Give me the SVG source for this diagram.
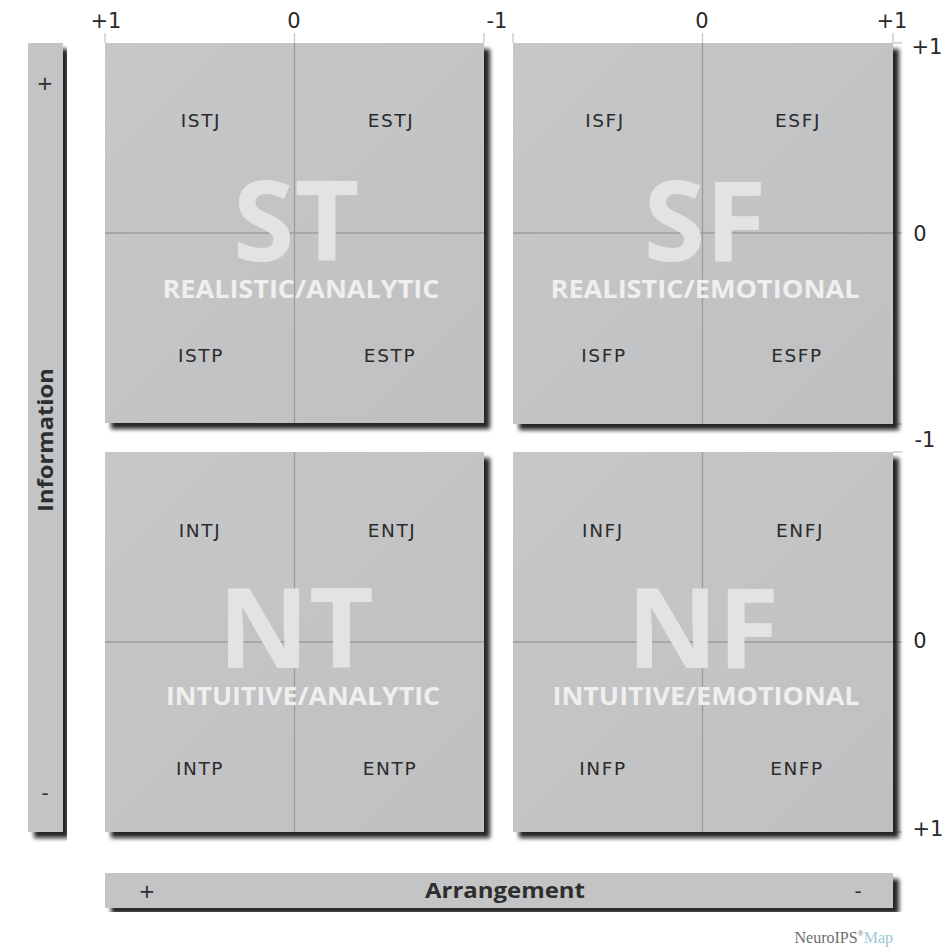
<svg xmlns="http://www.w3.org/2000/svg" width="947" height="952" viewBox="0 0 947 952">
<defs>
<filter id="sh" x="-5%" y="-5%" width="115%" height="115%">
<feDropShadow dx="6" dy="6" stdDeviation="2.2" flood-color="#111111" flood-opacity="0.9"/>
</filter>
<linearGradient id="pg" x1="0" y1="0" x2="1" y2="1">
<stop offset="0" stop-color="#c6c7c9"/>
<stop offset="1" stop-color="#bfc0c2"/>
</linearGradient>
<style>
.panel{fill:url(#pg);filter:url(#sh)}
.bar{fill:#c3c4c6;filter:url(#sh)}
.div{stroke:#9c9d9f;stroke-width:1.3;fill:none}
.tick{stroke:#c9cacc;stroke-width:1.3;fill:none}
.ax{font-family:"DejaVu Sans",Verdana,sans-serif;font-size:21px;fill:#2a2a2a;text-anchor:middle}
.ty{font-family:"DejaVu Sans",Verdana,sans-serif;font-size:18.5px;fill:#2b2b2b;text-anchor:middle;letter-spacing:1.6px}
.big{font-family:"Open Sans",sans-serif;font-weight:700;font-size:112px;fill:#e3e3e4;text-anchor:middle}
.lab{font-family:"Open Sans",sans-serif;font-weight:700;font-size:25px;fill:#efefef;text-anchor:middle}
.ttl{font-family:"Open Sans",sans-serif;font-weight:700;font-size:21px;fill:#2e2e2e;text-anchor:middle}
.pm{font-family:"DejaVu Sans",sans-serif;font-size:20px;fill:#2e2e2e;text-anchor:middle}
</style>
</defs>
<rect width="947" height="952" fill="#ffffff"/>

<g id="ticks">
<path class="tick" d="M105 33V43M294.5 33V43M484 33V43M513 33V43M702.5 33V43M893 33V43"/>
<path class="tick" d="M893 43H902M893 233H902M893 424H902M893 452H902M893 642H902M893 832H902"/>
</g>

<g id="axis-labels">
<text class="ax" x="106" y="28">+1</text>
<text class="ax" x="294" y="28">0</text>
<text class="ax" x="497" y="28">-1</text>
<text class="ax" x="702" y="28">0</text>
<text class="ax" x="892" y="28">+1</text>
<text class="ax" x="927" y="54">+1</text>
<text class="ax" x="920" y="241">0</text>
<text class="ax" x="925" y="447">-1</text>
<text class="ax" x="920" y="648">0</text>
<text class="ax" x="928" y="836">+1</text>
</g>

<g id="quadrant-ST">
<rect class="panel" x="105" y="43" width="379" height="380"/>
<path class="div" d="M294.5 43V423M105 233H484"/>
<text class="big" x="296" y="261">ST</text>
<text class="lab" x="301" y="298" textLength="277" lengthAdjust="spacingAndGlyphs">REALISTIC/ANALYTIC</text>
<text class="ty" x="201" y="127">ISTJ</text>
<text class="ty" x="391" y="127">ESTJ</text>
<text class="ty" x="201" y="362">ISTP</text>
<text class="ty" x="390" y="362">ESTP</text>
</g>

<g id="quadrant-SF">
<rect class="panel" x="513" y="43" width="380" height="381"/>
<path class="div" d="M702.5 43V424M513 233H893"/>
<text class="big" x="705" y="261">SF</text>
<text class="lab" x="705" y="298" textLength="309" lengthAdjust="spacingAndGlyphs">REALISTIC/EMOTIONAL</text>
<text class="ty" x="605" y="127">ISFJ</text>
<text class="ty" x="798" y="127">ESFJ</text>
<text class="ty" x="604" y="362">ISFP</text>
<text class="ty" x="797" y="362">ESFP</text>
</g>

<g id="quadrant-NT">
<rect class="panel" x="105" y="452" width="379" height="380"/>
<path class="div" d="M294.5 452V832M105 642H484"/>
<text class="big" x="296" y="668">NT</text>
<text class="lab" x="303" y="705" textLength="274" lengthAdjust="spacingAndGlyphs">INTUITIVE/ANALYTIC</text>
<text class="ty" x="200" y="537">INTJ</text>
<text class="ty" x="392" y="537">ENTJ</text>
<text class="ty" x="200" y="775">INTP</text>
<text class="ty" x="390" y="775">ENTP</text>
</g>

<g id="quadrant-NF">
<rect class="panel" x="513" y="452" width="380" height="380"/>
<path class="div" d="M702.5 452V832M513 642H893"/>
<text class="big" x="703" y="668">NF</text>
<text class="lab" x="706" y="705" textLength="307" lengthAdjust="spacingAndGlyphs">INTUITIVE/EMOTIONAL</text>
<text class="ty" x="603" y="537">INFJ</text>
<text class="ty" x="800" y="537">ENFJ</text>
<text class="ty" x="603" y="775">INFP</text>
<text class="ty" x="797" y="775">ENFP</text>
</g>

<g id="axis-information">
<rect class="bar" x="28" y="43" width="35" height="789"/>
<text class="pm" x="45" y="90">+</text>
<text class="pm" x="45" y="800">-</text>
<text class="ttl" transform="translate(53 440) rotate(-90)" textLength="144" lengthAdjust="spacingAndGlyphs">Information</text>
</g>

<g id="axis-arrangement">
<rect class="bar" x="105" y="873" width="788" height="35"/>
<text class="pm" x="147" y="898">+</text>
<text class="pm" x="858" y="898">-</text>
<text class="ttl" x="505" y="898" textLength="160" lengthAdjust="spacingAndGlyphs">Arrangement</text>
</g>

<g id="logo">
<text x="893" y="943" text-anchor="end" font-family="'Liberation Serif',serif" font-size="16" fill="#6e6e6e">NeuroIPS<tspan font-size="8" dy="-7">®</tspan><tspan dy="7" fill="#9cc9d6">Map</tspan></text>
</g>
</svg>
